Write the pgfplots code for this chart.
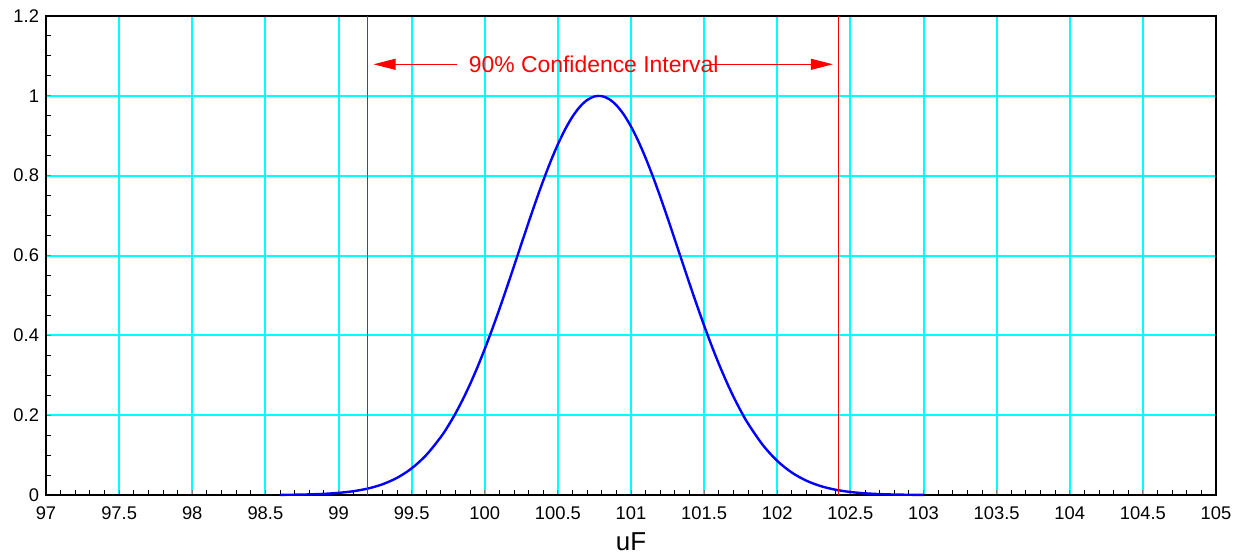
\documentclass[border=0pt]{standalone}
\usepackage{fontspec}
\setmainfont{Liberation Sans}
\usepackage{pgfplots}
\pgfplotsset{compat=1.18}
\usetikzlibrary{arrows.meta}
\definecolor{gridcyan}{RGB}{0,255,255}
\begin{document}
\begin{tikzpicture}
\begin{axis}[
  scale only axis,
  width=585bp, height=239.5bp,
  xmin=97, xmax=105, ymin=0, ymax=1.2,
  xtick={97,97.5,98,98.5,99,99.5,100,100.5,101,101.5,102,102.5,103,103.5,104,104.5,105},
  xticklabels={97,97.5,98,98.5,99,99.5,100,100.5,101,101.5,102,102.5,103,103.5,104,104.5,105},
  ytick={0,0.2,0.4,0.6,0.8,1,1.2},
  yticklabels={0,0.2,0.4,0.6,0.8,1,1.2},
  minor x tick num=4,
  minor y tick num=3,
  xmajorgrids, ymajorgrids,
  major grid style={draw=gridcyan, line width=1bp, opacity=1},
  axis line style={line width=1.1bp},
  major tick length=2.5bp, minor tick length=2.5bp,
  every minor tick/.append style={line width=0.5bp, draw=black},
  every major tick/.append style={line width=0.5bp},
  tick align=inside,
  xtick pos=bottom, ytick pos=left,
  tick label style={font=\fontsize{9.2}{10}\selectfont},
  xticklabel style={yshift=-2.5bp},
  /pgf/number format/assume math mode=true,
  xlabel={uF},
  xlabel style={font=\fontsize{13}{14}\selectfont, at={(axis description cs:0.5,0)}, anchor=base, yshift=-27.5bp},
  clip=false,
]
\addplot[blue, line width=1.2bp, smooth] coordinates {
(98.6,0.00039) (98.7,0.00078) (98.8,0.00153) (98.9,0.0029) (99.0,0.00532)
(99.1,0.00943) (99.2,0.01615) (99.3,0.02677) (99.4,0.04295) (99.5,0.06667)
(99.6,0.1001) (99.7,0.1455) (99.75,0.1732) (99.8,0.2045) (99.85,0.2394)
(99.9,0.2780) (99.95,0.3202) (100.0,0.3658) (100.05,0.4145)
(100.1,0.4657) (100.15,0.5189) (100.2,0.5735) (100.25,0.6286) (100.3,0.6833)
(100.35,0.7367) (100.4,0.7877) (100.45,0.8353) (100.5,0.8785) (100.55,0.9163)
(100.6,0.9479) (100.65,0.9725) (100.7,0.9895) (100.75,0.9985) (100.8,0.9993)
(100.85,0.9919) (100.9,0.9765) (100.95,0.9534)
(101.0,0.9231) (101.05,0.8865) (101.1,0.8443) (101.15,0.7975) (101.2,0.7471)
(101.25,0.6941) (101.3,0.6396) (101.35,0.5845) (101.4,0.5297) (101.45,0.4762)
(101.5,0.4245) (101.55,0.3753) (101.6,0.3291) (101.65,0.2862) (101.7,0.2468)
(101.75,0.2112) (101.8,0.1791) (101.9,0.1258)
(102.0,0.0854) (102.1,0.0561) (102.2,0.0357) (102.3,0.0220) (102.4,0.01307)
(102.5,0.00752) (102.6,0.00419) (102.7,0.00226) (102.8,0.00118) (102.9,0.00059)
(103.0,0.00029)
};
\addplot[red, line width=0.5bp] coordinates {(99.198,0) (99.198,1.2)};
\addplot[red, line width=0.5bp] coordinates {(102.42,0) (102.42,1.2)};
\addplot[red, line width=0.5bp, -{Triangle[length=11bp,width=5.5bp]}] coordinates {(99.81,1.079) (99.24,1.079)};
\addplot[red, line width=0.5bp, -{Triangle[length=11bp,width=5.5bp]}] coordinates {(101.54,1.079) (102.38,1.079)};
\node[red, font=\fontsize{11.5}{13}\selectfont, inner sep=0pt] at (axis cs:100.745,1.079) {90\% Confidence Interval};
\end{axis}
\pgfresetboundingbox
\path[use as bounding box] ([shift={(-23bp,-29.5bp)}]current axis.south west) rectangle ([shift={(12.5bp,8bp)}]current axis.north east);
\end{tikzpicture}
\end{document}
